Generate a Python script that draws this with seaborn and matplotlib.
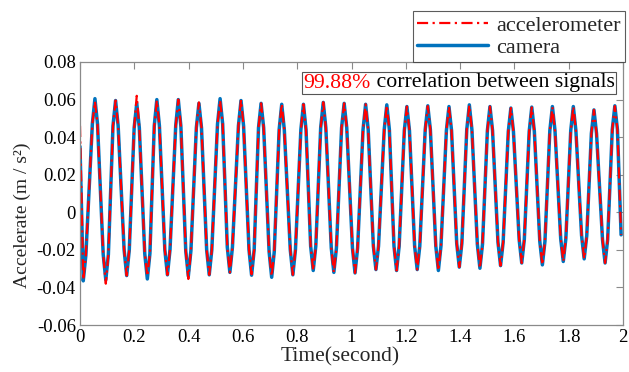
import numpy as np
import pandas as pd
import matplotlib
matplotlib.use("Agg")
import matplotlib.pyplot as plt
import seaborn as sns
from matplotlib.offsetbox import TextArea, HPacker, AnchoredOffsetbox
from matplotlib.lines import Line2D

# ---- data ----
start_time = 0.0
end_time = 1.993
acc_start, cam_start = 0.046, 0.035
acc_end, cam_end = -0.012, -0.012

peak_time = [0.055, 0.131, 0.209, 0.283, 0.362, 0.438, 0.516, 0.593, 0.667, 0.743,
             0.823, 0.896, 0.973, 1.052, 1.130, 1.204, 1.281, 1.359, 1.434, 1.510,
             1.587, 1.664, 1.740, 1.817, 1.893, 1.970]
trough_time = [0.012, 0.095, 0.172, 0.248, 0.322, 0.399, 0.476, 0.552, 0.632, 0.706,
               0.784, 0.859, 0.935, 1.013, 1.090, 1.166, 1.242, 1.320, 1.397, 1.473,
               1.549, 1.627, 1.703, 1.780, 1.857, 1.934]

cam_peak = [0.0605, 0.0595, 0.0580, 0.0600, 0.0600, 0.0580, 0.0605, 0.0595, 0.0580, 0.0575,
            0.0575, 0.0585, 0.0580, 0.0575, 0.0572, 0.0563, 0.0567, 0.0563, 0.0572, 0.0563,
            0.0555, 0.0560, 0.0563, 0.0563, 0.0545, 0.0567]
acc_peak = [0.0590, 0.0595, 0.0620, 0.0595, 0.0600, 0.0585, 0.0595, 0.0598, 0.0580, 0.0578,
            0.0575, 0.0586, 0.0580, 0.0575, 0.0570, 0.0563, 0.0565, 0.0563, 0.0570, 0.0563,
            0.0555, 0.0558, 0.0560, 0.0563, 0.0545, 0.0565]
cam_trough = [-0.0365, -0.0360, -0.0337, -0.0355, -0.0333, -0.0340, -0.0333, -0.0320, -0.0335, -0.0346,
              -0.0333, -0.0310, -0.0320, -0.0323, -0.0305, -0.0310, -0.0305, -0.0310, -0.0292, -0.0298,
              -0.0284, -0.0270, -0.0280, -0.0262, -0.0248, -0.0270]
acc_trough = [-0.0360, -0.0380, -0.0337, -0.0340, -0.0333, -0.0355, -0.0333, -0.0320, -0.0330, -0.0340,
              -0.0333, -0.0310, -0.0320, -0.0323, -0.0305, -0.0310, -0.0305, -0.0310, -0.0292, -0.0298,
              -0.0284, -0.0270, -0.0280, -0.0262, -0.0248, -0.0270]

# level of the curve about 0.0095 s either side of each extremum
shoulder_dt = 0.0095
peak_shoulder = [0.047, 0.046, 0.045, 0.046, 0.046, 0.045, 0.047, 0.046, 0.045, 0.044,
                 0.044, 0.045, 0.045, 0.044, 0.044, 0.0435, 0.044, 0.0435, 0.044, 0.0435,
                 0.043, 0.043, 0.0435, 0.0435, 0.042, 0.044]
trough_shoulder = [-0.023, -0.0225, -0.020, -0.022, -0.020, -0.0205, -0.020, -0.0185, -0.020, -0.021,
                   -0.020, -0.018, -0.019, -0.019, -0.018, -0.018, -0.018, -0.018, -0.0165, -0.017,
                   -0.016, -0.0145, -0.0155, -0.014, -0.0125, -0.0145]

x_ticks = [0, 0.2, 0.4, 0.6, 0.8, 1.0, 1.2, 1.4, 1.6, 1.8, 2.0]
x_tick_labels = ["0", "0.2", "0.4", "0.6", "0.8", "1", "1.2", "1.4", "1.6", "1.8", "2"]
y_ticks = [-0.06, -0.04, -0.02, 0, 0.02, 0.04, 0.06, 0.08]
y_tick_labels = ["-0.06", "-0.04", "-0.02", "0", "0.02", "0.04", "0.06", "0.08"]
series_names = ["accelerometer", "camera"]
correlation_pct = "99.88%"


# ---- build series ----
def build(start, peaks, troughs, end):
    t = [start_time] + list(peak_time) + list(trough_time) + [end_time]
    v = [start] + list(peaks) + list(troughs) + [end]
    for pt, ps in zip(peak_time, peak_shoulder):
        t += [pt - shoulder_dt, pt + shoulder_dt]
        v += [ps, ps]
    for i, (tt, ts) in enumerate(zip(trough_time, trough_shoulder)):
        if i > 0:
            t.append(tt - shoulder_dt)
            v.append(ts)
        t.append(tt + shoulder_dt)
        v.append(ts)
    df = pd.DataFrame({"time": t, "value": v})
    df = df[(df.time >= start_time) & (df.time <= end_time)]
    return df.sort_values("time").reset_index(drop=True)


acc_df = build(acc_start, acc_peak, acc_trough, acc_end)
cam_df = build(cam_start, cam_peak, cam_trough, cam_end)

sns.set_style("white")
plt.rcParams["font.family"] = ["Liberation Serif", "DejaVu Serif"]

RED = "#FF0000"
BLUE = "#0072BD"
SPINE = "#8a8a8a"
ACC_STYLE = (0, (5, 2, 1, 2))

fig = plt.figure(figsize=(6.29, 3.72), dpi=100)
ax = fig.add_axes([80 / 629, 1 - 325 / 372, 543 / 629, 263 / 372])

sns.lineplot(data=cam_df, x="time", y="value", ax=ax, color=BLUE, linewidth=2.5,
             sort=False, estimator=None, legend=False)
sns.lineplot(data=acc_df, x="time", y="value", ax=ax, color=RED, linewidth=1.6,
             sort=False, estimator=None, legend=False, linestyle=ACC_STYLE)

ax.set_xlim(0, 2)
ax.set_ylim(-0.06, 0.08)
ax.set_xticks(x_ticks)
ax.set_xticklabels(x_tick_labels)
ax.set_yticks(y_ticks)
ax.set_yticklabels(y_tick_labels)
ax.tick_params(direction="in", top=True, right=True, length=5, width=0.8,
               color=SPINE, labelsize=13.5, labelcolor="black", pad=3)
for s in ax.spines.values():
    s.set_color(SPINE)
    s.set_linewidth(0.9)

ax.set_xlabel("Time(second)", fontsize=15.5)
ax.xaxis.set_label_coords((340 - 80) / 543, -(347 - 325) / 263)
ax.set_ylabel("Accelerate (m / s²)", fontsize=14)
ax.yaxis.set_label_coords(-(80 - 31) / 543, (325 - 215) / 263)

handles = [Line2D([], [], color=RED, linewidth=1.6, linestyle=ACC_STYLE),
           Line2D([], [], color=BLUE, linewidth=2.5)]
leg = ax.legend(handles, series_names, loc="lower right",
                bbox_to_anchor=(625 / 629, 1 - 62 / 372), bbox_transform=fig.transFigure,
                borderaxespad=0, fontsize=16, frameon=True, fancybox=False,
                handlelength=3.2, handletextpad=0.35, labelspacing=0.05,
                borderpad=0.2)
leg.get_frame().set_edgecolor("#333333")
leg.get_frame().set_linewidth(0.8)

ta1 = TextArea(correlation_pct, textprops=dict(color=RED, fontsize=15.7))
ta2 = TextArea(" correlation between signals", textprops=dict(color="black", fontsize=15.7))
box = HPacker(children=[ta1, ta2], align="baseline", pad=0, sep=0)
anch = AnchoredOffsetbox(loc="center", child=box, pad=0.1, frameon=True,
                         bbox_to_anchor=(459 / 629, 1 - 83 / 372),
                         bbox_transform=fig.transFigure, borderpad=0)
anch.patch.set_edgecolor("#555555")
anch.patch.set_linewidth(0.8)
ax.add_artist(anch)

fig.savefig("out.png", dpi=100)
